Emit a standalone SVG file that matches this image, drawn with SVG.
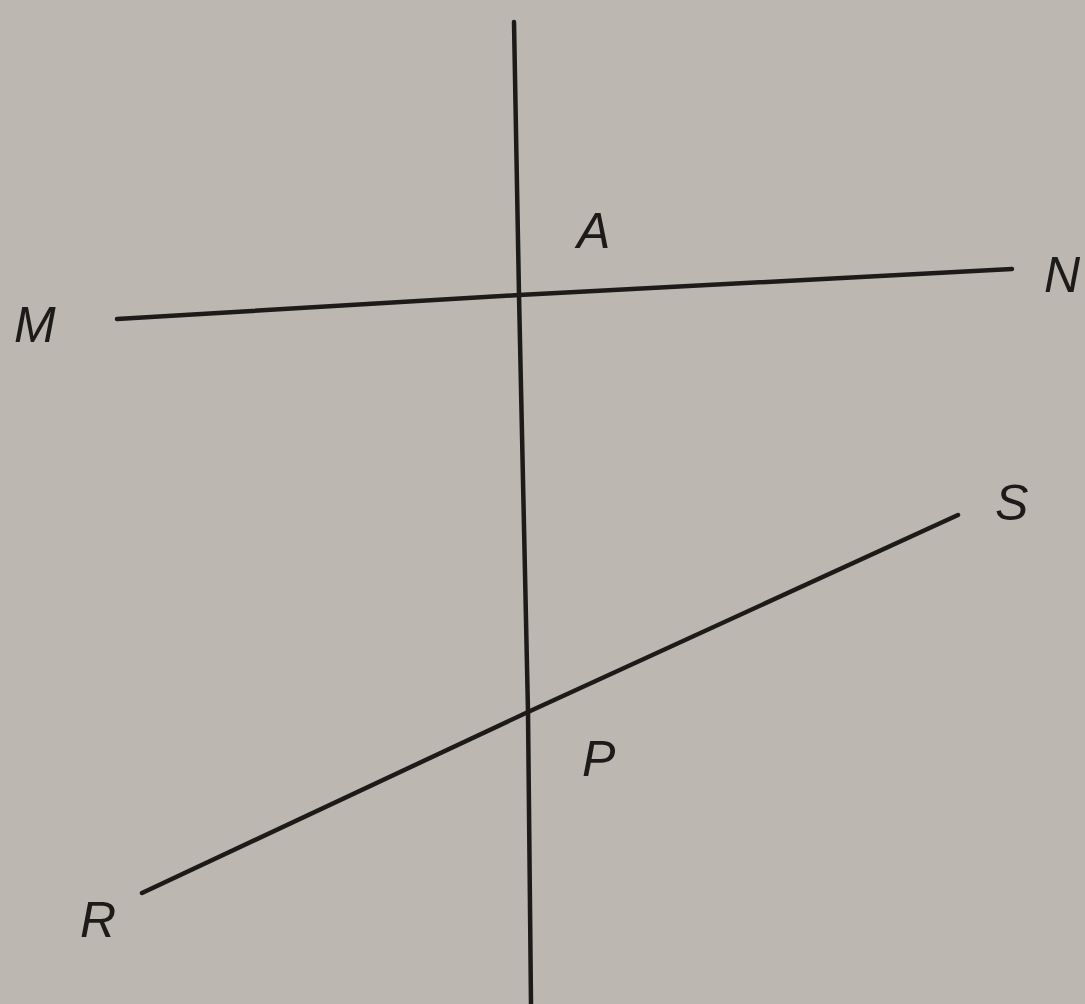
<svg xmlns="http://www.w3.org/2000/svg" width="1085" height="1004" viewBox="0 0 1085 1004">
<style>
.ln{stroke:#1c1b1a;stroke-width:4.5;stroke-linecap:round;fill:none}
.lb{font-family:"Liberation Sans",Arial,sans-serif;font-size:50px;fill:#1c1b1a;font-style:italic}
</style>
<rect width="1085" height="1004" fill="#bcb7b0"/>
<g id="connectors">
<path class="ln" d="M514 22 L519 295 L528 712 L531 1004"/>
<path class="ln" d="M117 319 L519 295 L1012 269"/>
<path class="ln" d="M142 893 L528 712 L958 515"/>
</g>
<g id="A"><text class="lb" x="577" y="248">A</text></g>
<g id="M"><text class="lb" x="14" y="342">M</text></g>
<g id="N"><text class="lb" x="1044" y="292">N</text></g>
<g id="S"><text class="lb" x="995" y="520">S</text></g>
<g id="P"><text class="lb" x="582" y="776">P</text></g>
<g id="R"><text class="lb" x="80" y="937">R</text></g>
</svg>
